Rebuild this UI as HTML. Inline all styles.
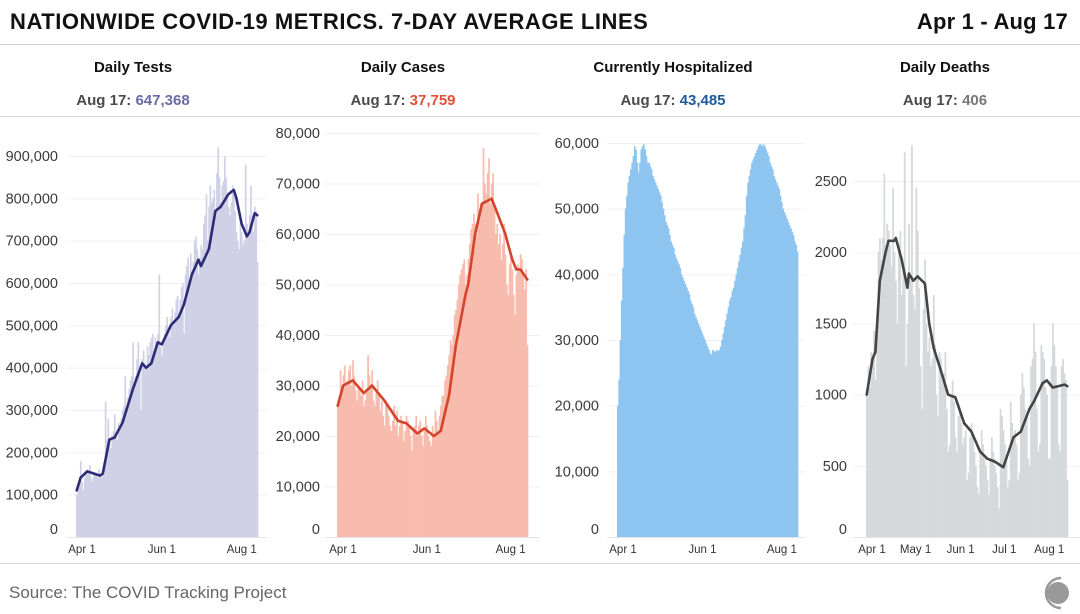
<!DOCTYPE html>
<html><head><meta charset="utf-8"><style>
html,body{margin:0;padding:0;background:#fff;}
svg{display:block;font-family:"Liberation Sans",sans-serif;}
</style></head><body>
<svg id="c" width="1080" height="614" viewBox="0 0 1080 614" xmlns="http://www.w3.org/2000/svg">
<text x="10" y="29" font-size="22" font-weight="bold" fill="#111" letter-spacing="0.55">NATIONWIDE COVID-19 METRICS. 7-DAY AVERAGE LINES</text>
<text x="1068" y="29" font-size="22" font-weight="bold" fill="#111" text-anchor="end" letter-spacing="0.2">Apr 1 - Aug 17</text>
<line x1="0" y1="44.5" x2="1080" y2="44.5" stroke="#d0d0d0"/>
<line x1="0" y1="116.5" x2="1080" y2="116.5" stroke="#d8d8d8"/>
<line x1="0" y1="563.5" x2="1080" y2="563.5" stroke="#d8d8d8"/>
<text x="9" y="598" font-size="17" fill="#666">Source: The COVID Tracking Project</text>
<g>
<circle cx="1058" cy="593" r="11" fill="#999"/>
<path d="M1061 578 A15 15 0 0 0 1061 608" fill="none" stroke="#999" stroke-width="2.5"/>
</g>
</svg>
<script>
const testsBars=[100,120,130,180,130,110,140,150,160,150,170,140,130,150,145,150,140,160,150,140,155,170,320,230,280,220,210,240,250,290,240,230,270,260,280,300,310,380,290,330,350,370,380,460,350,380,420,460,390,300,420,440,410,400,450,430,460,470,480,430,470,460,480,620,450,430,470,480,500,520,490,470,520,540,500,530,560,570,520,560,590,600,480,620,640,660,600,670,620,650,700,710,680,620,660,690,680,740,760,810,700,780,830,790,800,820,760,860,920,850,790,830,840,900,850,800,780,760,790,830,820,770,720,700,680,740,720,690,700,880,740,720,760,830,760,720,780,770,650];
const testsLineDays=[0,3,8,18,20,25,29,35,43,50,53,57,62,65,72,78,82,88,93,95,101,106,110,116,120,122,126,130,132,136,138];
const testsLineVals=[110,140,155,145,150,230,235,270,350,410,400,410,460,455,500,520,550,620,655,640,680,770,780,810,820,800,740,710,720,765,760];
const casesBars=[26,28,33,29,32,34,30,31,33,34,30,35,32,29,27,30,29,28,31,26,27,29,36,32,30,33,27,26,29,31,28,25,27,24,22,27,26,24,22,21,23,26,22,25,20,22,24,23,19,21,24,23,22,20,17,21,22,24,20,22,23,20,18,21,24,22,20,19,18,22,20,25,23,21,24,26,28,28,31,32,34,36,39,38,40,44,45,47,50,52,53,54,55,50,52,55,58,61,62,64,62,60,68,65,66,66,77,70,68,72,75,66,70,72,65,60,62,58,60,55,58,62,56,50,48,54,56,53,48,44,52,54,53,56,55,52,49,53,38];
const casesLineDays=[0,4,11,19,25,34,44,50,58,63,70,75,81,86,93,95,100,105,112,115,122,127,130,133,138];
const casesLineVals=[26,30,31,28.5,30,27,23,22.5,20.5,21.5,20,21,28,38,48,50,60,66,67,65,60,55,53,53,51];
const hospBars=[20,24,30,36,41,46,50,52,54,55,56,57,58,59.5,59,57,55.5,57,59,59.5,59.8,59,58,57,57,56.5,56,55,54.5,54,53.5,53,52.5,52,51,50,49,48,47.5,47,46,45,44.5,44,43,42.5,42,41.5,41,40,39.5,39,38.5,38,37.5,37,36,35.5,35,34,33.5,33,32.5,32,31.5,31,30.5,30,29.5,29,28.5,28,27.8,28.5,28.3,28.2,28.5,28.3,28.5,29,30,31,32,33,34,35,36,36.5,37.5,38,39,40,41,42,43,44,45,47,49,52,54,55,56,57,57.5,58,58.5,59,59.5,59.8,59.8,59.5,59.8,59.5,59,58.5,58,57,56.5,56,55,54.5,54,53.5,53,52,51,50,49.5,49,48.5,48,47.5,47,46.5,46,45,44.5,43.5];
const deathsBars=[1000,1200,1050,1300,1250,1450,1100,1400,2000,2100,1950,2100,2550,2050,2200,2150,2050,1900,2450,2000,1800,1500,2050,2150,1700,1900,2700,1200,1500,2200,1800,2750,1700,1600,2450,2150,1750,1200,900,1600,1950,1500,1300,1400,1200,1250,1700,1350,1000,850,1300,1250,1100,1150,1300,900,600,650,1000,1100,950,700,600,850,900,800,650,700,750,400,450,700,800,700,600,500,350,300,600,750,650,550,500,400,300,550,700,600,500,450,350,200,900,850,750,650,550,350,400,950,800,700,750,650,400,450,1000,1150,1050,900,850,550,500,1200,1250,1500,1300,900,600,650,1350,1300,1250,1050,1000,550,550,1200,1500,1350,1200,1050,650,600,1200,1250,1150,1100,400];
const deathsLineDays=[0,4,6,9,13,15,19,20,24,28,29,32,35,40,43,46,51,56,61,67,72,78,83,88,94,101,106,112,115,121,124,128,132,136,138];
const deathsLineVals=[1000,1250,1300,1800,2000,2080,2080,2100,1950,1750,1850,1800,1830,1780,1500,1330,1170,1000,980,800,740,600,550,530,490,700,740,900,950,1080,1100,1050,1060,1070,1060];
const testsTicks=[0,100000,200000,300000,400000,500000,600000,700000,800000,900000];
const casesTicks=[0,10000,20000,30000,40000,50000,60000,70000,80000];
const hospTicks=[0,10000,20000,30000,40000,50000,60000];
const deathsTicks=[0,500,1000,1500,2000,2500];
const xTicks3=[{d:0,l:"Apr 1"},{d:61,l:"Jun 1"},{d:122,l:"Aug 1"}];
const xTicks5=[{d:0,l:"Apr 1"},{d:30,l:"May 1"},{d:61,l:"Jun 1"},{d:91,l:"Jul 1"},{d:122,l:"Aug 1"}];

const NS="http://www.w3.org/2000/svg";
const svg=document.getElementById('c');
function mk(tag,attrs,parent){const e=document.createElementNS(NS,tag);for(const k in attrs)e.setAttribute(k,attrs[k]);(parent||svg).appendChild(e);return e;}
const fmt=v=>v>=10000?v.toLocaleString('en-US'):String(v);

const panels=[
 {key:'tests',title:'Daily Tests',val:'647,368',valColor:'#6b6aa6',cx:133,x0:76,x1:258,ax0:67,ax1:267,lab:58,yMax:900000,yTop:156,bars:testsBars,unit:1000,barColor:'#d0d1e7',ld:testsLineDays,lv:testsLineVals,lineColor:'#2d2c76',ticks:testsTicks,xt:xTicks3},
 {key:'cases',title:'Daily Cases',val:'37,759',valColor:'#e0513a',cx:403,x0:337,x1:528,ax0:325,ax1:540,lab:320,yMax:80000,yTop:133,bars:casesBars,unit:1000,barColor:'#f8bcae',ld:casesLineDays,lv:casesLineVals,lineColor:'#d4442a',ticks:casesTicks,xt:xTicks3},
 {key:'hospitalized',title:'Currently Hospitalized',val:'43,485',valColor:'#1f5a9c',cx:673,x0:617,x1:798,ax0:607,ax1:805,lab:599,yMax:60000,yTop:143,bars:hospBars,unit:1000,barColor:'#8ec5f0',ld:null,lv:null,ticks:hospTicks,xt:xTicks3},
 {key:'deaths',title:'Daily Deaths',val:'406',valColor:'#777',cx:945,x0:866,x1:1068,ax0:853,ax1:1080,lab:847,yMax:2500,yTop:181,bars:deathsBars,unit:1,barColor:'#d5d9db',ld:deathsLineDays,lv:deathsLineVals,lineColor:'#444',ticks:deathsTicks,xt:xTicks5}
];
const base=537, N=139;
panels.forEach(p=>{
 const g=mk('g',{});
 
 
 const t=mk('text',{x:p.cx,y:72,'font-size':15,'font-weight':'bold','text-anchor':'middle',fill:'#111'},g);
 t.textContent=p.title;
 
 
 const s=mk('text',{x:p.cx,y:105,'font-size':15,'font-weight':'bold','text-anchor':'middle',fill:'#4a4a4a'},g);
 
 
 s.appendChild(document.createTextNode('Aug 17: '));
 const sp=mk('tspan',{fill:p.valColor},s);sp.textContent=p.val;
 const y=v=>base-(v/p.yMax)*(base-p.yTop);
 const bw=(p.x1-p.x0)/N;
 const x=d=>p.x0+d*bw;
 p.ticks.forEach(tv=>{
  const gl=mk('line',{x1:p.ax0,x2:p.ax1,y1:y(tv)+0.5,y2:y(tv)+0.5,stroke:tv===0?'#e4e4e4':'#f1f1f1'},g);
  
  
  const tl=mk('text',{x:p.lab,y:(tv===0?y(tv)-3:y(tv)+5),'font-size':14.5,'text-anchor':'end',fill:'#3a3a3a'},g);
  tl.textContent=fmt(tv);
  
  
 });
 p.bars.forEach((v,i)=>{
  const b=mk('rect',{x:x(i),y:y(v*p.unit),width:bw+0.35,height:base-y(v*p.unit),fill:p.barColor},g);
  
  
 });
 if(p.ld){
  const pts=p.ld.map((d,i)=>(x(d)+bw/2).toFixed(1)+','+y(p.lv[i]*p.unit).toFixed(1)).join(' ');
  const l=mk('polyline',{points:pts,fill:'none',stroke:p.lineColor,'stroke-width':2.6,'stroke-linejoin':'round','stroke-linecap':'round'},g);
  
  
 }
 p.xt.forEach(tk=>{
  const xl=mk('text',{x:x(tk.d)+6,y:553,'font-size':11.5,'text-anchor':'middle',fill:'#333'},g);
  xl.textContent=tk.l;
  
  
 });
});
</script>
</body></html>
